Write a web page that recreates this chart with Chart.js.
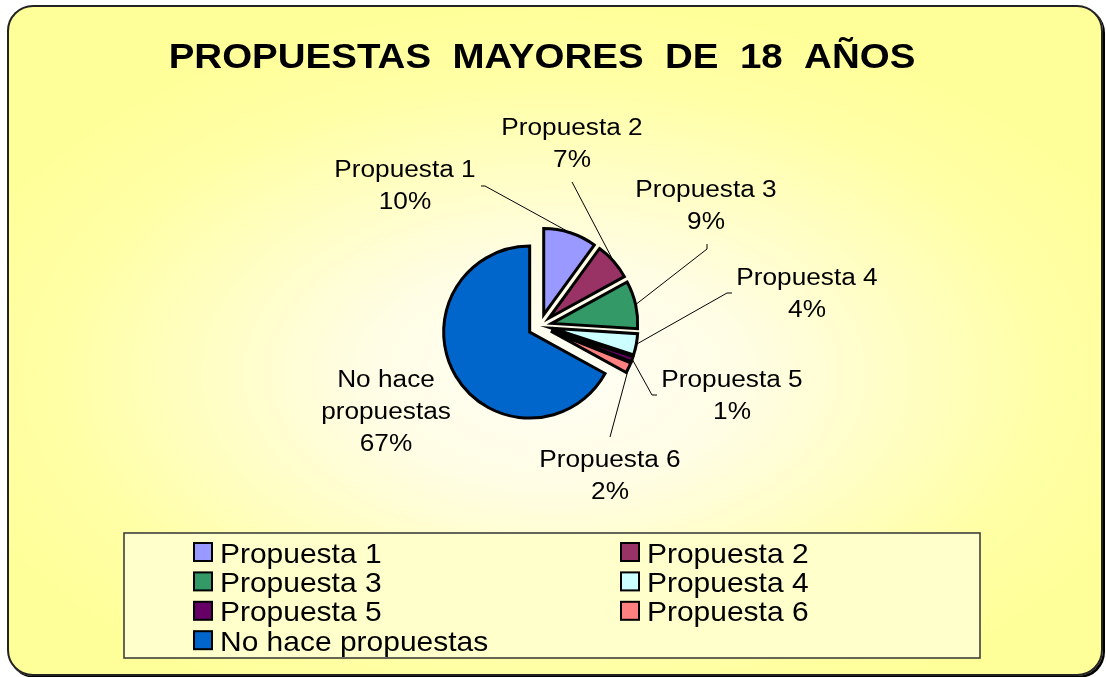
<!DOCTYPE html>
<html>
<head>
<meta charset="utf-8">
<script src="https://cdn.jsdelivr.net/npm/chart.js@4.4.1/dist/chart.umd.min.js"></script>
<style>
  html, body { margin: 0; padding: 0; background: #fff; }
  #frame {
    position: absolute; left: 7px; top: 5px;
    width: 1092px; height: 667px;
    border: 2px solid #222; border-radius: 26px;
    box-shadow: 2px 2px 0 #000;
    background: radial-gradient(ellipse 58% 56% at 50% 55%, #fffff6 0%, #fffde4 30%, #ffffa6 78%, #ffff99 100%);
  }
  #chart { position: absolute; left: 0; top: 0; }
</style>
</head>
<body>
<div id="frame"></div>
<canvas id="chart" width="1106" height="677"></canvas>
<script>
// data
const chartTitle = 'PROPUESTAS  MAYORES  DE  18  AÑOS';
const categories = ['Propuesta 1', 'Propuesta 2', 'Propuesta 3', 'Propuesta 4', 'Propuesta 5', 'Propuesta 6', 'No hace propuestas'];
const percentages = [10, 7, 9, 4, 1, 2, 67];
const sliceColors = ['#9999ff', '#993366', '#339966', '#ccffff', '#660066', '#ff8080', '#0066cc'];

// layout of the data labels, relative to the pie centre
// [text centre x, first baseline y]
const labelPos = [[-135, -149], [32, -191], [166, -129], [267, -41], [192, 61], [70, 141], [-154, 61]];
// leader line bends, from the slice outwards
const leaderPts = [
  [[-55, -140], [-59, -140]],
  [[32, -144]],
  [[167, -77], [167, -82]],
  [[187, -33], [192, -33]],
  [[112, 69], [117, 69]],
  [[70, 111]],
  []
];

const FONT = "'Liberation Sans', Arial, sans-serif";
const explode = 12;

function stretchText(ctx, text, x, y, sx) {
    ctx.save();
    ctx.translate(x, y);
    ctx.scale(sx, 1);
    ctx.fillText(text, 0, 0);
    ctx.restore();
}

function wrapWords(ctx, text, maxWidth) {
    const words = text.split(' ');
    const lines = [];
    let line = '';
    words.forEach(w => {
        const test = line ? line + ' ' + w : w;
        if (line && ctx.measureText(test).width > maxWidth) {
            lines.push(line);
            line = w;
        } else {
            line = test;
        }
    });
    lines.push(line);
    return lines;
}

// pull every slice out along its own bisector
const explodePlugin = {
    id: 'explode',
    afterDatasetsUpdate(chart) {
        chart.getDatasetMeta(0).data.forEach(arc => {
            const mid = (arc.startAngle + arc.endAngle) / 2;
            arc.x += Math.cos(mid) * explode;
            arc.y += Math.sin(mid) * explode;
        });
    }
};

const titlePlugin = {
    id: 'bigTitle',
    afterDraw(chart) {
        const ctx = chart.ctx;
        ctx.save();
        ctx.font = 'bold 35px ' + FONT;
        ctx.fillStyle = '#000';
        ctx.textAlign = 'center';
        ctx.textBaseline = 'alphabetic';
        stretchText(ctx, chartTitle, 542, 68, 1.1);
        ctx.restore();
    }
};

const labelPlugin = {
    id: 'sliceLabels',
    afterDatasetsDraw(chart) {
        const ctx = chart.ctx;
        const area = chart.chartArea;
        const cx = (area.left + area.right) / 2;
        const cy = (area.top + area.bottom) / 2;
        const values = chart.data.datasets[0].data;
        const total = values.reduce((a, b) => a + b, 0);
        ctx.save();
        chart.getDatasetMeta(0).data.forEach((arc, i) => {
            const mid = (arc.startAngle + arc.endAngle) / 2;
            const r = arc.outerRadius;
            const pts = leaderPts[i];
            if (pts.length) {
                ctx.beginPath();
                ctx.moveTo(arc.x + Math.cos(mid) * r, arc.y + Math.sin(mid) * r);
                pts.forEach(p => ctx.lineTo(cx + p[0], cy + p[1]));
                ctx.strokeStyle = '#000';
                ctx.lineWidth = 1;
                ctx.stroke();
            }
            ctx.font = '23px ' + FONT;
            ctx.fillStyle = '#000';
            ctx.textAlign = 'center';
            const lines = wrapWords(ctx, chart.data.labels[i], 150);
            lines.push(Math.round(values[i] / total * 100) + '%');
            lines.forEach((t, k) => {
                stretchText(ctx, t, cx + labelPos[i][0], cy + labelPos[i][1] + k * 32, 1.14);
            });
        });
        ctx.restore();
    }
};

const legendPlugin = {
    id: 'boxLegend',
    afterDraw(chart) {
        const ctx = chart.ctx;
        const ds = chart.data.datasets[0];
        ctx.save();
        ctx.fillStyle = '#ffffcc';
        ctx.fillRect(124, 533, 856, 125);
        ctx.strokeStyle = '#333';
        ctx.lineWidth = 1.5;
        ctx.strokeRect(124, 533, 856, 125);
        ctx.font = '28px ' + FONT;
        ctx.textAlign = 'left';
        chart.data.labels.forEach((name, i) => {
            const col = i % 2;
            const row = Math.floor(i / 2);
            const x = col ? 621 : 194;
            const y = 543 + row * 29.4;
            ctx.fillStyle = ds.backgroundColor[i];
            ctx.fillRect(x, y, 18, 18);
            ctx.strokeStyle = '#000';
            ctx.lineWidth = 2;
            ctx.strokeRect(x, y, 18, 18);
            ctx.fillStyle = '#000';
            stretchText(ctx, name, x + 26, y + 19.5, 1.07);
        });
        ctx.restore();
    }
};

new Chart(document.getElementById('chart'), {
    type: 'pie',
    data: {
        labels: categories,
        datasets: [{
            data: percentages,
            backgroundColor: sliceColors,
            borderColor: '#000',
            borderWidth: 3,
            borderJoinStyle: 'miter',
            radius: 86
        }]
    },
    options: {
        responsive: false,
        animation: false,
        events: [],
        layout: { padding: { left: 340, right: 366, top: 126, bottom: 151 } },
        plugins: {
            legend: { display: false },
            title: { display: false },
            tooltip: { enabled: false }
        }
    },
    plugins: [explodePlugin, labelPlugin, titlePlugin, legendPlugin]
});
</script>
</body>
</html>
